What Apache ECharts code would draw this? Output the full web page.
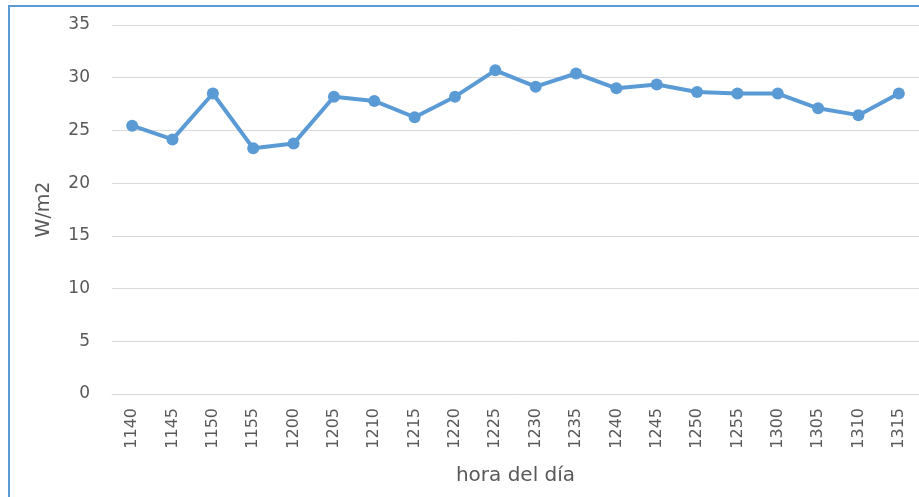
<!DOCTYPE html>
<html>
<head>
<meta charset="utf-8">
<script src="https://cdn.jsdelivr.net/npm/echarts@6/dist/echarts.min.js"></script>
<style>
html,body{margin:0;padding:0;background:#fff;}
#c{width:919px;height:497px;}
</style>
</head>
<body>
<div id="c"></div>
<script>
const categories = ['1140','1145','1150','1155','1200','1205','1210','1215','1220','1225','1230','1235','1240','1245','1250','1255','1300','1305','1310','1315'];
const values = [25.45, 24.15, 28.5, 23.3, 23.75, 28.2, 27.8, 26.25, 28.2, 30.7, 29.15, 30.4, 29.0, 29.35, 28.65, 28.5, 28.5, 27.1, 26.45, 28.5];
const yTicks = { min: 0, max: 35, interval: 5 };
const yName = 'W/m2';
const xName = 'hora del día';

const chart = echarts.init(document.getElementById('c'), null, {renderer: 'canvas'});
const fontFam = '"DejaVu Sans", sans-serif';
chart.setOption({
  animation: false,
  backgroundColor: '#fff',
  graphic: [{
    type: 'polyline',
    shape: { points: [[9, 497], [9, 6], [919, 6]] },
    style: { stroke: '#5b9bd5', lineWidth: 2, fill: null },
    silent: true
  }],
  grid: { left: 112, right: -4, top: 25, bottom: 103, containLabel: false },
  xAxis: {
    type: 'category',
    data: categories,
    boundaryGap: true,
    name: xName,
    nameLocation: 'middle',
    nameGap: 72,
    nameTextStyle: { color: '#595959', fontSize: 20, fontFamily: fontFam },
    axisLine: { show: true, lineStyle: { color: '#d9d9d9', width: 1 } },
    axisTick: { show: false },
    axisLabel: { rotate: 90, margin: 14, color: '#595959', fontSize: 16, fontFamily: fontFam, interval: 0 },
    splitLine: { show: false }
  },
  yAxis: {
    type: 'value',
    min: yTicks.min, max: yTicks.max, interval: yTicks.interval,
    name: yName,
    nameLocation: 'middle',
    nameGap: 58,
    nameRotate: 90,
    nameTextStyle: { color: '#595959', fontSize: 19, fontFamily: fontFam },
    axisLine: { show: false },
    axisTick: { show: false },
    axisLabel: { margin: 22, color: '#595959', fontSize: 17, fontFamily: fontFam },
    splitLine: { show: true, lineStyle: { color: '#d9d9d9', width: 1 } }
  },
  series: [{
    type: 'line',
    data: values,
    symbol: 'circle',
    symbolSize: 12,
    lineStyle: { color: '#5b9bd5', width: 4 },
    itemStyle: { color: '#5b9bd5' }
  }]
});
</script>
</body>
</html>
